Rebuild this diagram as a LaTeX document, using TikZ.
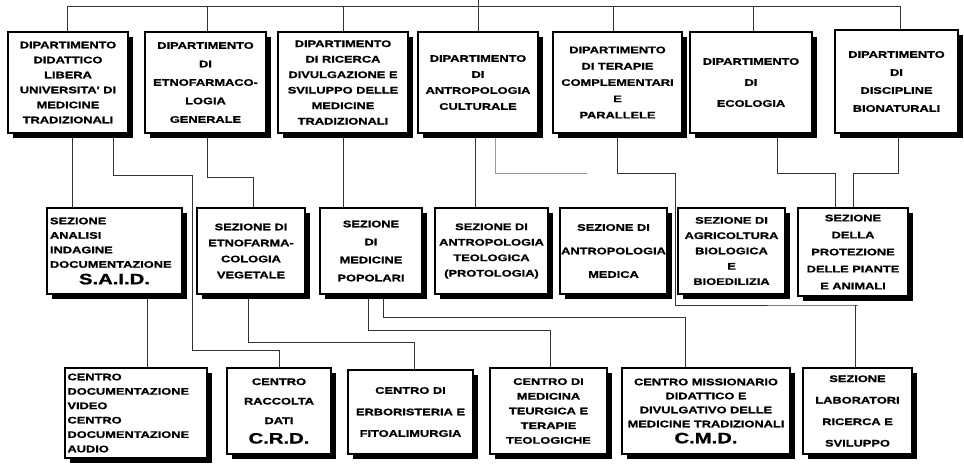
\documentclass[tikz,border=0pt]{standalone}
\usepackage{fontspec}
\newfontfamily\bfont{Liberation Sans}[FakeStretch=1.35, BoldFeatures={FakeBold=1.2}]
\usetikzlibrary{shadows,backgrounds}
\newcommand\myfs[2]{\bfont\bfseries\fontsize{#1}{#2}\selectfont}
\newcommand\biglab[1]{{\fontsize{15}{15}\selectfont #1}}
\tikzset{
  box/.style={draw=black, line width=1.3pt, fill=white, inner sep=1pt, align=center,
    text=black,
    drop shadow={shadow xshift=5pt, shadow yshift=-5pt, fill=black, opacity=1}},
  link/.style={draw=black!80, line width=0.9pt},
  ghost/.style={draw=black!40, line width=0.9pt}
}
\begin{document}
\begin{tikzpicture}[x=1pt,y=-1pt]
\useasboundingbox (0,0) rectangle (964,464);
% ---------- top row: departments ----------
\node[box, minimum width=120pt, minimum height=101pt, font=\myfs{9.5}{15}] (D1) at (68,82.5)
  {DIPARTIMENTO\\DIDATTICO\\LIBERA\\UNIVERSITA' DI\\MEDICINE\\TRADIZIONALI};
\node[box, minimum width=121pt, minimum height=101pt, font=\myfs{9.5}{18.5}] (D2) at (205.5,82.5)
  {DIPARTIMENTO\\DI\\ETNOFARMACO-\\LOGIA\\GENERALE};
\node[box, minimum width=130pt, minimum height=101pt, font=\myfs{9.5}{15.5}] (D3) at (343,82.5)
  {DIPARTIMENTO\\DI RICERCA\\DIVULGAZIONE E\\SVILUPPO DELLE\\MEDICINE\\TRADIZIONALI};
\node[box, minimum width=120pt, minimum height=101pt, font=\myfs{9.5}{16}] (D4) at (478,82.5)
  {DIPARTIMENTO\\DI\\ANTROPOLOGIA\\CULTURALE};
\node[box, minimum width=129pt, minimum height=101pt, font=\myfs{9.5}{16.3}] (D5) at (617.5,82.5)
  {DIPARTIMENTO\\DI TERAPIE\\COMPLEMENTARI\\E\\PARALLELE};
\node[box, minimum width=122pt, minimum height=101pt, font=\myfs{9.5}{21}] (D6) at (751,82.5)
  {DIPARTIMENTO\\DI\\ECOLOGIA};
\node[box, minimum width=123pt, minimum height=103pt, font=\myfs{9.5}{18}] (D7) at (896.5,81.5)
  {DIPARTIMENTO\\DI\\DISCIPLINE\\BIONATURALI};
% ---------- middle row: sections ----------
\node[box, minimum width=135pt, minimum height=86pt, text width=129pt, align=left, font=\myfs{9.5}{14.5}] (S1) at (114.5,251)
  {SEZIONE\\ANALISI\\INDAGINE\\DOCUMENTAZIONE\\[2pt]\hspace*{0pt plus 1fill}\biglab{S.A.I.D.}\hspace*{0pt plus 1fill}};
\node[box, minimum width=108pt, minimum height=86pt, font=\myfs{9.5}{16}] (S2) at (251,251)
  {SEZIONE DI\\ETNOFARMA-\\COLOGIA\\VEGETALE};
\node[box, minimum width=102pt, minimum height=86pt, font=\myfs{9.5}{18}] (S3) at (371,251)
  {SEZIONE\\DI\\MEDICINE\\POPOLARI};
\node[box, minimum width=113pt, minimum height=86pt, font=\myfs{9.5}{15.5}] (S4) at (491.5,251)
  {SEZIONE DI\\ANTROPOLOGIA\\TEOLOGICA\\(PROTOLOGIA)};
\node[box, minimum width=107pt, minimum height=86pt, font=\myfs{9.5}{23.5}] (S5) at (613.5,251)
  {SEZIONE DI\\ANTROPOLOGIA\\MEDICA};
\node[box, minimum width=107pt, minimum height=86pt, font=\myfs{9.5}{15.3}] (S6) at (731.5,251)
  {SEZIONE DI\\AGRICOLTURA\\BIOLOGICA\\E\\BIOEDILIZIA};
\node[box, minimum width=110pt, minimum height=88pt, font=\myfs{9.5}{17}] (S7) at (853,252)
  {SEZIONE\\DELLA\\PROTEZIONE\\DELLE PIANTE\\E ANIMALI};
% ---------- bottom row: centres ----------
\node[box, minimum width=142pt, minimum height=90pt, text width=137pt, align=left, font=\myfs{9.5}{14.4}] (C1) at (136,413)
  {CENTRO\\DOCUMENTAZIONE\\VIDEO\\CENTRO\\DOCUMENTAZIONE\\AUDIO};
\node[box, minimum width=104pt, minimum height=86pt, font=\myfs{9.5}{19.5}] (C2) at (279,411)
  {CENTRO\\RACCOLTA\\DATI\\\biglab{C.R.D.}};
\node[box, minimum width=125pt, minimum height=84pt, font=\myfs{9.5}{21.5}] (C3) at (410.5,412)
  {CENTRO DI\\ERBORISTERIA E\\FITOALIMURGIA};
\node[box, minimum width=117pt, minimum height=86pt, font=\myfs{9.5}{14.7}] (C4) at (548.5,411)
  {CENTRO DI\\MEDICINA\\TEURGICA E\\TERAPIE\\TEOLOGICHE};
\node[box, minimum width=168pt, minimum height=86pt, font=\myfs{9.5}{14}] (C5) at (706,411)
  {CENTRO MISSIONARIO\\DIDATTICO E\\DIVULGATIVO DELLE\\MEDICINE TRADIZIONALI\\[2pt]\biglab{C.M.D.}};
\node[box, minimum width=109pt, minimum height=86pt, font=\myfs{9.5}{21.5}] (C6) at (857.5,411)
  {SEZIONE\\LABORATORI\\RICERCA E\\SVILUPPO};
% ---------- connectors ----------
\coordinate (root) at (478,0);
\coordinate (s7a) at ([xshift=-18pt]S7.north);
\coordinate (c5a) at ([xshift=-21pt]C5.north);
\coordinate (c3a) at ([xshift=4pt]C3.north);
\coordinate (s5end) at ([xshift=-27pt]S5.north |- 0,173);
\begin{pgfonlayer}{background}
\fill[white] (0,0) rectangle (964,464);
% top bus
\draw[link] ([xshift=-1pt]D1.north) -- ++(0,-25) -| ([xshift=3.5pt]D7.north);
\foreach \n/\s in {D2/1.5,D3/0,D5/-4.5,D6/2} \draw[link] ([xshift=\s pt]\n.north) -- ++(0,-25);
\draw[link] (D4.north) -- (root);
% departments to sections / centres
\draw[link] ([xshift=4pt]D1.south) -- ([xshift=4pt]D1.south |- S1.north);
\draw[link] ([xshift=45pt]D1.south) |- (192,175) |- (C2.north |- 0,350) -- (C2.north);
\draw[link] ([xshift=1.5pt]D2.south) -- ++(0,44) -| ([xshift=2pt]S2.north);
\draw[link] (D3.south) -- (D3.south |- S3.north);
\draw[link] ([xshift=-3pt]D4.south) -- ([xshift=-3pt]D4.south |- S4.north);
\draw[ghost] ([xshift=17pt]D4.south) |- (s5end);
\draw[link] (D5.south) |- (675,173) |- (C6.north |- 0,305) -- ([xshift=-2.5pt]C6.north |- 0,305) -- ([xshift=-2.5pt]C6.north);
\draw[link] ([xshift=26pt]D6.south) -- ++(0,40) -| (s7a);
\draw[link] ([xshift=1.5pt]D7.south) -- ++(0,40) -| (S7.north);
% sections to centres
\draw[link] ([xshift=32.5pt]S1.south) -- ([xshift=32.5pt]S1.south |- C1.north);
\draw[link] ([xshift=-3pt]S2.south) -- ++(0,48) -| (c3a);
\draw[link] ([xshift=-3pt]S3.south) -- ++(0,36) -| ([xshift=1.5pt]C4.north);
\draw[link] ([xshift=12pt]S3.south) -- ++(0,23) -| (c5a);
\end{pgfonlayer}
\end{tikzpicture}
\end{document}
